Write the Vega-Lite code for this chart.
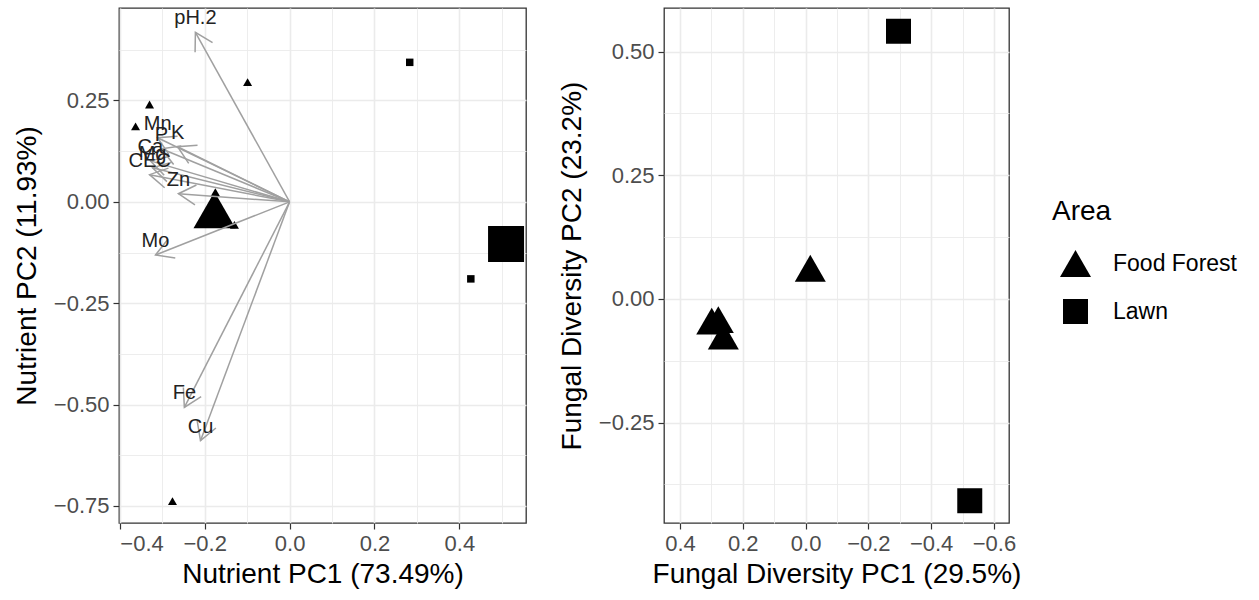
{
  "$schema": "https://vega.github.io/schema/vega-lite/v6.json",
  "background": "white",
  "padding": {"left": 12, "top": 7, "right": 5, "bottom": 5},
  "spacing": 30,
  "datasets": {
    "nutrient": [
      {"Area": "Food Forest", "Type": "sample", "PC1": -0.099, "PC2": 0.295},
      {"Area": "Food Forest", "Type": "sample", "PC1": -0.330, "PC2": 0.240},
      {"Area": "Food Forest", "Type": "sample", "PC1": -0.363, "PC2": 0.186},
      {"Area": "Food Forest", "Type": "sample", "PC1": -0.175, "PC2": 0.024},
      {"Area": "Food Forest", "Type": "sample", "PC1": -0.130, "PC2": -0.057},
      {"Area": "Food Forest", "Type": "sample", "PC1": -0.276, "PC2": -0.738},
      {"Area": "Lawn", "Type": "sample", "PC1": 0.283, "PC2": 0.344},
      {"Area": "Lawn", "Type": "sample", "PC1": 0.427, "PC2": -0.190},
      {"Area": "Food Forest", "Type": "centroid", "PC1": -0.177, "PC2": -0.020},
      {"Area": "Lawn", "Type": "centroid", "PC1": 0.510, "PC2": -0.104}
    ],
    "loadings": [
      {"var": "pH.2", "PC1": -0.222, "PC2": 0.418},
      {"var": "Mn", "PC1": -0.311, "PC2": 0.158},
      {"var": "P", "PC1": -0.302, "PC2": 0.131},
      {"var": "K", "PC1": -0.264, "PC2": 0.136},
      {"var": "Ca", "PC1": -0.328, "PC2": 0.101},
      {"var": "Mg", "PC1": -0.323, "PC2": 0.084},
      {"var": "CEC", "PC1": -0.330, "PC2": 0.067},
      {"var": "Zn", "PC1": -0.262, "PC2": 0.020},
      {"var": "Mo", "PC1": -0.316, "PC2": -0.131},
      {"var": "Fe", "PC1": -0.248, "PC2": -0.507},
      {"var": "Cu", "PC1": -0.210, "PC2": -0.589}
    ],
    "fungal": [
      {"Area": "Food Forest", "PC1": -0.015, "PC2": 0.062},
      {"Area": "Food Forest", "PC1": 0.299, "PC2": -0.045},
      {"Area": "Food Forest", "PC1": 0.278, "PC2": -0.042},
      {"Area": "Food Forest", "PC1": 0.262, "PC2": -0.075},
      {"Area": "Lawn", "PC1": -0.296, "PC2": 0.541},
      {"Area": "Lawn", "PC1": -0.523, "PC2": -0.408}
    ]
  },
  "hconcat": [
    {
      "width": 407,
      "height": 515,
      "encoding": {
        "x": {
          "field": "PC1", "type": "quantitative",
          "scale": {"domain": [-0.402, 0.557], "zero": false, "nice": false},
          "axis": {
            "title": "Nutrient PC1 (73.49%)",
            "values": [-0.4, -0.3, -0.2, -0.1, 0, 0.1, 0.2, 0.3, 0.4, 0.5],
            "labelExpr": "abs(round(datum.value*10)) % 2 == 1 ? '' : format(datum.value, '.1f')",
            "tickOpacity": {"condition": {"test": "abs(round(datum.value*10)) % 2 == 1", "value": 0}, "value": 1},
            "gridWidth": {"condition": {"test": "abs(round(datum.value*10)) % 2 == 1", "value": 0.9}, "value": 1.6}
          }
        },
        "y": {
          "field": "PC2", "type": "quantitative",
          "scale": {"domain": [-0.792, 0.478], "zero": false, "nice": false},
          "axis": {
            "title": "Nutrient PC2 (11.93%)",
            "values": [-0.75, -0.625, -0.5, -0.375, -0.25, -0.125, 0, 0.125, 0.25, 0.375],
            "labelExpr": "abs(round(datum.value*8)) % 2 == 1 ? '' : format(datum.value, '.2f')",
            "tickOpacity": {"condition": {"test": "abs(round(datum.value*8)) % 2 == 1", "value": 0}, "value": 1},
            "gridWidth": {"condition": {"test": "abs(round(datum.value*8)) % 2 == 1", "value": 0.9}, "value": 1.6}
          }
        }
      },
      "layer": [
        {
          "data": {"name": "nutrient"},
          "transform": [{"filter": "datum.Type == 'sample' && datum.Area == 'Food Forest'"}],
          "mark": {"type": "point", "shape": "triangle-up", "filled": true, "color": "black", "opacity": 1, "size": 81}
        },
        {
          "data": {"name": "nutrient"},
          "transform": [{"filter": "datum.Type == 'sample' && datum.Area == 'Lawn'"}],
          "mark": {"type": "point", "shape": "square", "filled": true, "color": "black", "opacity": 1, "size": 56}
        },
        {
          "data": {"name": "nutrient"},
          "transform": [{"filter": "datum.Type == 'centroid' && datum.Area == 'Food Forest'"}],
          "mark": {"type": "point", "shape": "triangle-up", "filled": true, "color": "black", "opacity": 1, "size": 1764}
        },
        {
          "data": {"name": "nutrient"},
          "transform": [{"filter": "datum.Type == 'centroid' && datum.Area == 'Lawn'"}],
          "mark": {"type": "point", "shape": "square", "filled": true, "color": "black", "opacity": 1, "size": 1296}
        },
        {
          "data": {"name": "loadings"},
          "mark": {"type": "rule", "color": "#A0A0A0", "strokeWidth": 1.5},
          "encoding": {
            "x2": {"datum": 0},
            "y2": {"datum": 0}
          }
        },
        {
          "data": {"name": "loadings"},
          "transform": [{"calculate": "atan2(datum.PC1*424, datum.PC2*404)*180/PI", "as": "ang"}],
          "mark": {"type": "point", "shape": "M-0.5,0.866L0,0L0.5,0.866", "filled": false, "stroke": "#A0A0A0", "strokeWidth": 1.5, "opacity": 1, "size": 1600},
          "encoding": {
            "angle": {"field": "ang", "type": "quantitative", "scale": null}
          }
        },
        {
          "data": {"name": "loadings"},
          "mark": {"type": "text", "font": "Liberation Sans", "fontSize": 20, "color": "#222222", "dy": -14, "align": "center", "baseline": "middle"},
          "encoding": {
            "text": {"field": "var", "type": "nominal"}
          }
        },
        {
          "data": {"values": [{"panel": "a"}]},
          "mark": {"type": "text", "font": "Liberation Sans", "fontSize": 27, "fontWeight": "bold", "color": "black", "align": "center", "baseline": "middle"},
          "encoding": {
            "x": {"datum": -0.353, "type": "quantitative"},
            "y": {"datum": 0.396, "type": "quantitative"},
            "text": {"field": "panel", "type": "nominal"}
          }
        }
      ]
    },
    {
      "width": 345,
      "height": 515,
      "encoding": {
        "x": {
          "field": "PC1", "type": "quantitative",
          "scale": {"domain": [-0.648, 0.451], "zero": false, "nice": false, "reverse": true},
          "axis": {
            "title": "Fungal Diversity PC1 (29.5%)",
            "values": [-0.6, -0.5, -0.4, -0.3, -0.2, -0.1, 0, 0.1, 0.2, 0.3, 0.4],
            "labelExpr": "abs(round(datum.value*10)) % 2 == 1 ? '' : format(datum.value, '.1f')",
            "tickOpacity": {"condition": {"test": "abs(round(datum.value*10)) % 2 == 1", "value": 0}, "value": 1},
            "gridWidth": {"condition": {"test": "abs(round(datum.value*10)) % 2 == 1", "value": 0.9}, "value": 1.6}
          }
        },
        "y": {
          "field": "PC2", "type": "quantitative",
          "scale": {"domain": [-0.453, 0.588], "zero": false, "nice": false},
          "axis": {
            "title": "Fungal Diversity PC2 (23.2%)",
            "values": [-0.375, -0.25, -0.125, 0, 0.125, 0.25, 0.375, 0.5],
            "labelExpr": "abs(round(datum.value*8)) % 2 == 1 ? '' : format(datum.value, '.2f')",
            "tickOpacity": {"condition": {"test": "abs(round(datum.value*8)) % 2 == 1", "value": 0}, "value": 1},
            "gridWidth": {"condition": {"test": "abs(round(datum.value*8)) % 2 == 1", "value": 0.9}, "value": 1.6}
          }
        }
      },
      "layer": [
        {
          "data": {"name": "fungal"},
          "mark": {"type": "point", "filled": true, "color": "black", "opacity": 1},
          "encoding": {
            "shape": {
              "field": "Area", "type": "nominal",
              "scale": {"domain": ["Food Forest", "Lawn"], "range": ["triangle-up", "square"]},
              "legend": {"title": "Area", "orient": "none", "legendX": 933, "legendY": 190}
            },
            "size": {
              "field": "Area", "type": "nominal",
              "scale": {"domain": ["Food Forest", "Lawn"], "range": [961, 625]},
              "legend": {"title": "Area", "orient": "none", "legendX": 933, "legendY": 190}
            }
          }
        },
        {
          "data": {"values": [{"panel": "b"}]},
          "mark": {"type": "text", "font": "Liberation Sans", "fontSize": 27, "fontWeight": "bold", "color": "black", "align": "center", "baseline": "middle"},
          "encoding": {
            "x": {"datum": 0.349, "type": "quantitative"},
            "y": {"datum": 0.498, "type": "quantitative"},
            "text": {"field": "panel", "type": "nominal"}
          }
        }
      ]
    }
  ],
  "config": {
    "font": "Liberation Sans",
    "view": {"stroke": "#333333", "strokeWidth": 1.3},
    "axis": {
      "domain": false,
      "labelFont": "Liberation Sans",
      "labelFontSize": 22,
      "labelColor": "#4D4D4D",
      "labelPadding": 4,
      "titleFont": "Liberation Sans",
      "titleFontSize": 28,
      "titleFontWeight": "normal",
      "titleColor": "black",
      "tickColor": "#333333",
      "tickSize": 6,
      "tickWidth": 1.2,
      "gridColor": "#EBEBEB"
    },
    "axisX": {"titlePadding": 6},
    "axisY": {"titlePadding": 12},
    "legend": {
      "titleFont": "Liberation Sans",
      "titleFontSize": 28,
      "titleFontWeight": "normal",
      "titleColor": "black",
      "titlePadding": 22,
      "labelFont": "Liberation Sans",
      "labelFontSize": 23,
      "labelColor": "black",
      "labelOffset": 22,
      "symbolOffset": 8,
      "symbolFillColor": "black",
      "symbolStrokeWidth": 0,
      "symbolOpacity": 1,
      "rowPadding": 22,
      "padding": 0
    }
  }
}
